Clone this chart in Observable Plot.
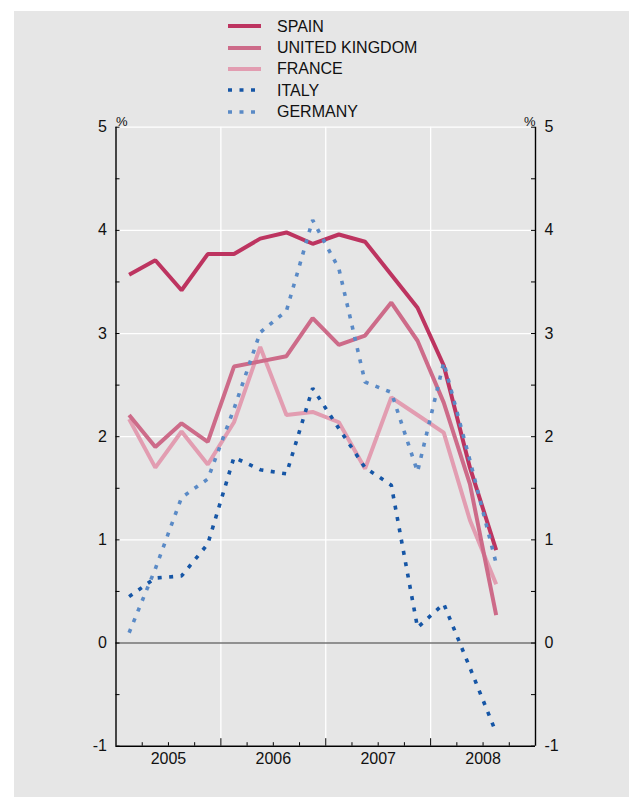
<!DOCTYPE html>
<html>
<head>
<meta charset="utf-8">
<script src="https://cdn.jsdelivr.net/npm/d3@7"></script>
<script src="https://cdn.jsdelivr.net/npm/@observablehq/plot@0.6"></script>
<style>
  html, body { margin: 0; padding: 0; background: #ffffff; }
  #wrap { position: relative; width: 629px; height: 797px; overflow: hidden; font-family: "Liberation Sans", Arial, sans-serif; }
  #panel { position: absolute; left: 14px; top: 11px; right: 0; bottom: 0; background: #e6e6e6; }
  #chart { position: absolute; left: 0; top: 0; }
  #legend { position: absolute; left: 228px; top: 15.5px; }
  .lg-row { position: relative; height: 21.4px; display: flex; align-items: center; }
  .lg-row svg { width: 34px; height: 8px; display: block; }
  .lg-row span { position: absolute; left: 49px; top: 3px; font-size: 16px; line-height: 1; color: #111; white-space: nowrap; }
</style>
</head>
<body>
<div id="wrap">
  <div id="panel"></div>
  <div id="chart"></div>
  <div id="legend"></div>
</div>
<script>
// ---- data (quarterly, % change) ----
const quarters = ["2005Q1","2005Q2","2005Q3","2005Q4","2006Q1","2006Q2","2006Q3","2006Q4",
                  "2007Q1","2007Q2","2007Q3","2007Q4","2008Q1","2008Q2","2008Q3"];
const spain   = [3.57, 3.71, 3.42, 3.77, 3.77, 3.92, 3.98, 3.87, 3.96, 3.89, 3.57, 3.25, 2.69, 1.70, 0.90];
const uk      = [2.21, 1.90, 2.13, 1.95, 2.68, 2.73, 2.78, 3.15, 2.89, 2.98, 3.30, 2.93, 2.33, 1.54, 0.27];
const france  = [2.17, 1.70, 2.05, 1.73, 2.14, 2.87, 2.21, 2.24, 2.14, 1.69, 2.38, 2.21, 2.04, 1.19, 0.57];
const italy   = [0.45, 0.63, 0.65, 0.96, 1.80, 1.68, 1.64, 2.47, 2.08, 1.70, 1.53, 0.15, 0.38, -0.24, -0.87];
const germany = [0.10, 0.72, 1.41, 1.59, 2.27, 3.01, 3.22, 4.10, 3.63, 2.53, 2.43, 1.66, 2.72, 1.77, 0.77];

const seriesNames = ["SPAIN", "UNITED KINGDOM", "FRANCE", "ITALY", "GERMANY"];
const seriesValues = [spain, uk, france, italy, germany];
const seriesColors = ["#bd3460", "#cd6b89", "#e29db1", "#1656a6", "#5a8ac6"];
const seriesDotted = [false, false, false, true, true];

const yTickLabels = [-1, 0, 1, 2, 3, 4, 5];
const yGridValues = [-1, 1, 2, 3, 4, 5];
const yMinorTicks = d3.range(-1, 5.01, 0.5);
const yearBounds = [2006, 2007, 2008];
const yearLabels = [2005, 2006, 2007, 2008];
const quarterTicks = d3.range(2005.25, 2009, 0.25).filter(d => d % 1 !== 0);

// ---- layout ----
const W = 629, H = 797;
const mL = 115.5, mR = 94, mT = 126.7, mB = 51.3;
const frameW = W - mL - mR, frameH = H - mT - mB;
const DASH = "4,7.5";

const qx = q => +q.slice(0, 4) + (+q.slice(5) - 1) / 4 + 0.125;
const rows = seriesNames.map((name, i) => quarters.map((q, j) => ({country: name, t: qx(q), v: seriesValues[i][j]})));

const drawOrder = [2, 1, 0, 3, 4];
const lineMarks = drawOrder.map(i => Plot.line(rows[i], {
  x: "t", y: "v",
  stroke: seriesColors[i],
  strokeWidth: seriesDotted[i] ? 3.6 : 4,
  strokeDasharray: seriesDotted[i] ? DASH : null,
  strokeLinejoin: "miter",
  strokeLinecap: "butt"
}));

const chart = Plot.plot({
  width: W, height: H,
  marginLeft: mL, marginRight: mR, marginTop: mT, marginBottom: mB,
  x: {type: "linear", domain: [2005, 2009]},
  y: {domain: [-1, 5]},
  style: {background: "transparent", fontFamily: "'Liberation Sans', Arial, sans-serif", fontSize: "16px", color: "#111"},
  marks: [
    Plot.ruleY(yGridValues, {stroke: "white", strokeWidth: 1.3}),
    Plot.ruleX(yearBounds, {stroke: "white", strokeWidth: 1.3}),
    Plot.ruleY([0], {stroke: "#737373", strokeWidth: 1.6}),
    ...lineMarks,
    // axis lines
    Plot.ruleX([2005, 2009], {stroke: "black", strokeWidth: 1.4}),
    Plot.ruleY([-1], {stroke: "black", strokeWidth: 1.4}),
    // inward ticks
    Plot.ruleY(yMinorTicks, {stroke: "black", strokeWidth: 1, insetRight: frameW - 4}),
    Plot.ruleY(yMinorTicks, {stroke: "black", strokeWidth: 1, insetLeft: frameW - 4}),
    Plot.ruleX(quarterTicks, {stroke: "black", strokeWidth: 1, insetTop: frameH - 3.5}),
    Plot.ruleX(yearBounds, {stroke: "black", strokeWidth: 1, insetTop: frameH - 7.5}),
    // tick labels
    Plot.axisY({anchor: "left", ticks: yTickLabels, tickSize: 0, tickPadding: 9, tickFormat: d => String(d), label: null, fontSize: 16}),
    Plot.axisY({anchor: "right", ticks: yTickLabels, tickSize: 0, tickPadding: 9, tickFormat: d => String(d), label: null, fontSize: 16}),
    Plot.axisX({anchor: "bottom", ticks: yearLabels.map(y => y + 0.5), tickSize: 0, tickPadding: 6, tickFormat: d => String(Math.floor(d)), label: null, fontSize: 16}),
    Plot.text(["%"], {frameAnchor: "top-left", dy: -10, fontSize: 13}),
    Plot.text(["%"], {frameAnchor: "top-right", dy: -10, fontSize: 13})
  ]
});
document.getElementById("chart").appendChild(chart);

// ---- legend ----
const legend = document.getElementById("legend");
seriesNames.forEach((name, i) => {
  const row = document.createElement("div");
  row.className = "lg-row";
  const ns = "http://www.w3.org/2000/svg";
  const svg = document.createElementNS(ns, "svg");
  svg.setAttribute("viewBox", "0 0 34 8");
  const ln = document.createElementNS(ns, "line");
  ln.setAttribute("x1", 0); ln.setAttribute("x2", 33);
  ln.setAttribute("y1", 4); ln.setAttribute("y2", 4);
  ln.setAttribute("stroke", seriesColors[i]);
  ln.setAttribute("stroke-width", seriesDotted[i] ? 3.6 : 4);
  if (seriesDotted[i]) ln.setAttribute("stroke-dasharray", DASH);
  svg.appendChild(ln);
  row.appendChild(svg);
  const sp = document.createElement("span");
  sp.textContent = name;
  row.appendChild(sp);
  legend.appendChild(row);
});
</script>
</body>
</html>
